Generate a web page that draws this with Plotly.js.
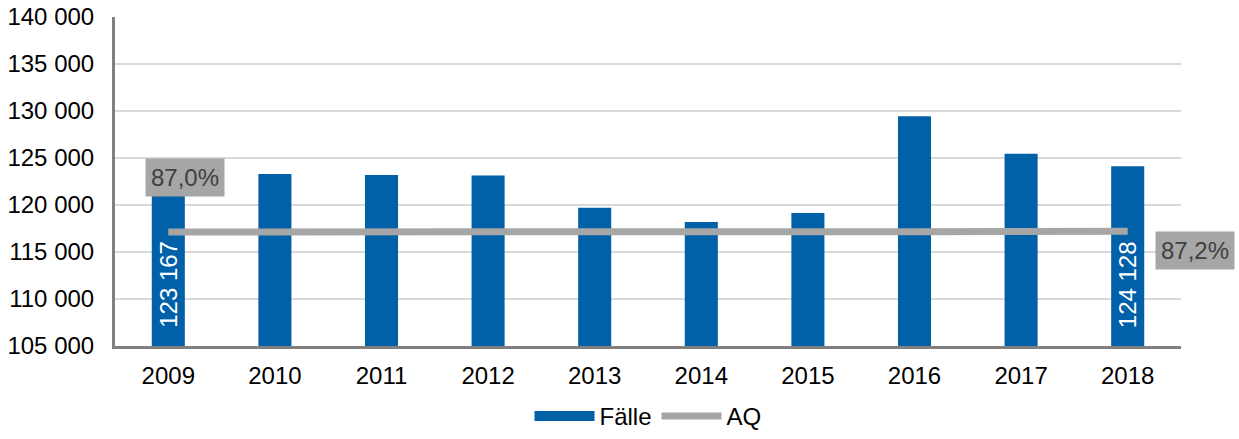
<!DOCTYPE html>
<html>
<head>
<meta charset="utf-8">
<script src="https://cdn.plot.ly/plotly-3.0.1.min.js"></script>
<style>html,body{margin:0;padding:0;background:#fff}#chart{width:1239px;height:439px}</style>
</head>
<body>
<div id="chart"></div>
<script>
const years = ['2009','2010','2011','2012','2013','2014','2015','2016','2017','2018'];
const faelle = [123167, 123300, 123200, 123150, 119700, 118200, 119150, 129450, 125450, 124128];
const aq = [87.0, 87.1, 87.2, 86.8, 87.1, 87.3, 87.1, 87.1, 87.2, 87.2];
const barLabelIdx = [0, 9];
const aqLabelIdx = [0, 9];

const FONT = 'Liberation Sans, Arial, sans-serif';
const BLUE = '#0060a8';
const GRAY = '#a6a6a6';
const YMIN = 105000, YMAX = 140000;

const fmtInt = v => String(v).replace(/\B(?=(\d{3})+(?!\d))/g, ' ');
const fmtPct = v => v.toFixed(1).replace('.', ',') + '%';

const traces = [
  {
    type: 'bar', name: 'Fälle', x: years, y: faelle, showlegend: false, legendgroup: 'f',
    marker: {color: BLUE}, hoverinfo: 'skip'
  },
  {
    type: 'scatter', mode: 'lines', name: 'Fälle', x: [years[0]], y: [null], legendgroup: 'f',
    line: {color: BLUE, width: 13}, hoverinfo: 'skip'
  },
  {
    type: 'scatter', mode: 'lines', name: 'AQ', x: years, y: aq, yaxis: 'y2',
    line: {color: GRAY, width: 7}, hoverinfo: 'skip'
  }
];

const annotations = [];
barLabelIdx.forEach(i => annotations.push({
  x: i, y: YMIN, xref: 'x', yref: 'y', text: fmtInt(faelle[i]), textangle: -90,
  showarrow: false, xanchor: 'center', yanchor: 'bottom', yshift: 16,
  font: {family: FONT, size: 24, color: '#ffffff'}
}));
annotations.push(
  {x: aqLabelIdx[0], y: aq[aqLabelIdx[0]], xref: 'x', yref: 'y2', text: fmtPct(aq[aqLabelIdx[0]]),
   showarrow: false, xanchor: 'left', yanchor: 'bottom', xshift: -23, yshift: 35,
   bgcolor: GRAY, borderpad: 5, font: {family: FONT, size: 24, color: '#404040'}},
  {x: aqLabelIdx[1], y: aq[aqLabelIdx[1]], xref: 'x', yref: 'y2', text: fmtPct(aq[aqLabelIdx[1]]),
   showarrow: false, xanchor: 'left', yanchor: 'top', xshift: 27, yshift: 0,
   bgcolor: GRAY, borderpad: 5, font: {family: FONT, size: 24, color: '#404040'}}
);

const layout = {
  width: 1239, height: 439,
  margin: {l: 115, r: 58, t: 17, b: 93},
  paper_bgcolor: '#ffffff', plot_bgcolor: '#ffffff',
  separators: ', ',
  font: {family: FONT, size: 24, color: '#000000'},
  bargap: 0.69,
  showlegend: true,
  legend: {orientation: 'h', x: 0.5, xanchor: 'center', xref: 'paper', y: -0.022, yref: 'container', yanchor: 'bottom',
           font: {family: FONT, size: 24, color: '#000'}, traceorder: 'normal', itemwidth: 60},
  xaxis: {type: 'category', range: [-0.5, years.length - 0.5], showgrid: false, showline: true, linecolor: '#808080', linewidth: 3,
          ticks: '', tickfont: {size: 24}, ticklabelstandoff: 6},
  yaxis: {range: [YMIN, YMAX], dtick: 5000, tickformat: ',d', showgrid: true, gridcolor: '#d9d9d9', gridwidth: 2,
          showline: true, linecolor: '#808080', linewidth: 3, ticks: '', tickfont: {size: 24}, zeroline: false,
          ticklabelstandoff: 13},
  yaxis2: {overlaying: 'y', side: 'right', range: [52.35, 152.35], visible: false, showgrid: false, zeroline: false},
  annotations: annotations
};

Plotly.newPlot('chart', traces, layout, {displayModeBar: false, staticPlot: true});
</script>
</body>
</html>
